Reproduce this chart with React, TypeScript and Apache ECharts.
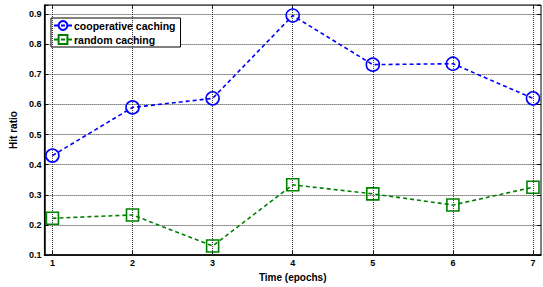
import React, { useEffect, useRef } from "react";
import * as echarts from "echarts";

const epochs = [1, 2, 3, 4, 5, 6, 7];
const cooperative = [0.43, 0.59, 0.62, 0.895, 0.732, 0.735, 0.62];
const random = [0.222, 0.233, 0.13, 0.333, 0.303, 0.266, 0.325];
const yTicks = [0.1, 0.2, 0.3, 0.4, 0.5, 0.6, 0.7, 0.8, 0.9];

export default function App() {
  const ref = useRef<HTMLDivElement>(null);
  useEffect(() => {
    const chart = echarts.init(ref.current!, null, { renderer: "svg" });
    const font = { fontFamily: "Liberation Sans, Arial, sans-serif", fontWeight: "bold" as const, color: "#000" };
    chart.setOption({
      animation: false,
      backgroundColor: "#fff",
      grid: { left: 37, right: 2, top: 5, bottom: 30, show: true, borderColor: "#000", borderWidth: 1, backgroundColor: "transparent" },
      legend: {
        left: 51,
        top: 18,
        orient: "vertical",
        backgroundColor: "#fff",
        borderColor: "#000",
        borderWidth: 1,
        borderRadius: 0,
        padding: [2, 5, 2, 2],
        itemGap: 3,
        itemWidth: 18,
        itemHeight: 11,
        textStyle: { ...font, fontSize: 10.5, padding: [0, 0, 0, -3] },
        data: ["cooperative caching", "random caching"],
      },
      xAxis: [
        {
          type: "value",
          min: 0.9,
          max: 7.1,
          name: "Time (epochs)",
          nameLocation: "middle",
          nameGap: 17,
          nameTextStyle: { ...font, fontSize: 10 },
          axisLine: { show: true, lineStyle: { color: "#000", width: 1.5 } },
          axisTick: { show: true, inside: true, length: 4, customValues: epochs, lineStyle: { color: "#000" } },
          axisLabel: { ...font, fontSize: 9, margin: 3, customValues: epochs },
          splitLine: { show: false },
        },
        {
          type: "value",
          position: "top",
          min: 0.9,
          max: 7.1,
          axisLine: { show: false },
          axisTick: { show: true, inside: true, length: 4, customValues: epochs, lineStyle: { color: "#000" } },
          axisLabel: { show: false, customValues: epochs },
          splitLine: { show: false },
        },
      ],
      yAxis: [
        {
          type: "value",
          min: 0.1,
          max: 0.93,
          interval: 0.1,
          name: "Hit ratio",
          nameLocation: "middle",
          nameGap: 21,
          nameTextStyle: { ...font, fontSize: 10 },
          axisLine: { show: true, lineStyle: { color: "#000", width: 1.5 } },
          axisTick: { show: true, inside: true, length: 4, lineStyle: { color: "#000" } },
          axisLabel: {
            ...font,
            fontSize: 9,
            margin: 3,
            formatter: (v: number) => (yTicks.some((t) => Math.abs(t - v) < 1e-6) ? v.toFixed(1) : ""),
          },
          splitLine: { show: true, lineStyle: { color: "#333", type: [1, 1], width: 1 } },
        },
        {
          type: "value",
          position: "right",
          min: 0.1,
          max: 0.93,
          interval: 0.1,
          axisLine: { show: false },
          axisTick: { show: true, inside: true, length: 4, lineStyle: { color: "#000" } },
          axisLabel: { show: false },
          splitLine: { show: false },
        },
      ],
      series: [
        {
          name: "grid",
          type: "line",
          data: [],
          silent: true,
          markLine: {
            silent: true,
            symbol: "none",
            label: { show: false },
            lineStyle: { color: "#333", type: [1, 1], width: 1 },
            data: epochs.map((e) => ({ xAxis: e })),
          },
        },
        {
          name: "cooperative caching",
          type: "line",
          data: epochs.map((e, i) => [e, cooperative[i]]),
          symbol: "circle",
          symbolSize: 13,
          color: "#0000ff",
          itemStyle: { color: "transparent", borderColor: "#0000ff", borderWidth: 1.6 },
          lineStyle: { color: "#0000ff", type: [4, 3], width: 1.6 },
          z: 5,
        },
        {
          name: "random caching",
          type: "line",
          data: epochs.map((e, i) => [e, random[i]]),
          symbol: "rect",
          symbolSize: 12,
          color: "#008000",
          itemStyle: { color: "transparent", borderColor: "#008000", borderWidth: 1.6 },
          lineStyle: { color: "#008000", type: [4, 3], width: 1.6 },
          z: 5,
        },
      ],
    });
    return () => chart.dispose();
  }, []);
  return <div ref={ref} style={{ width: 543, height: 287, position: "absolute", left: 0, top: 0 }} />;
}
